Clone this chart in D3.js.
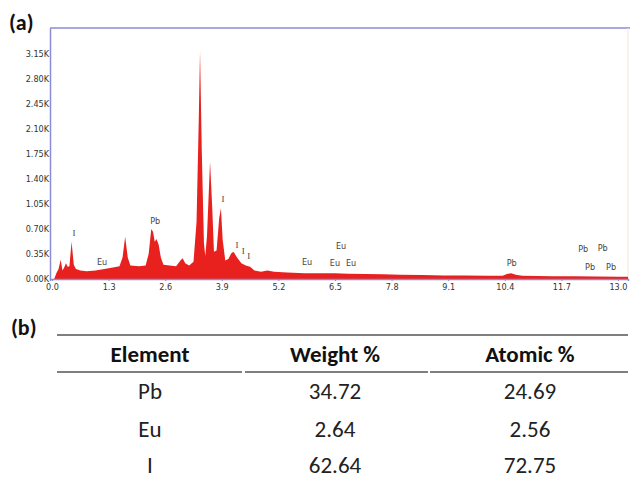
<!DOCTYPE html>
<html>
<head>
<meta charset="utf-8">
<script src="https://cdn.jsdelivr.net/npm/d3@7"></script>
<style>
  body { margin: 0; background: #fff; }
  .tick text { font-family: "Liberation Sans Narrow", "DejaVu Sans Condensed", sans-serif; font-size: 9px; fill: #333; }
  .peak { font-family: "Liberation Sans Narrow", "DejaVu Sans Condensed", sans-serif; font-size: 9px; fill: #444; }
  .peak.serif { font-family: "Liberation Serif", serif; }
  .panel { font-family: Carlito, Lato, "Open Sans", sans-serif; font-weight: 900; font-size: 22px; fill: #111; }
  .tbl { font-family: Carlito, Lato, "Open Sans", sans-serif; font-size: 23px; fill: #222; }
  .tbl.head { font-weight: bold; fill: #111; }
</style>
</head>
<body>
<div id="chart"></div>
<script>
// spectrum: energy (keV) and counts (K)
var energy = [0.05, 0.10, 0.15, 0.20, 0.24, 0.28, 0.32, 0.36, 0.40, 0.45, 0.50, 0.55, 0.65, 0.80, 1.00, 1.20, 1.40,
  1.55, 1.62, 1.68, 1.74, 1.80, 2.00, 2.15, 2.22, 2.28, 2.32, 2.36, 2.40, 2.45, 2.50, 2.56, 2.70, 2.85, 2.95, 3.00,
  3.06, 3.15, 3.25, 3.32, 3.37, 3.40, 3.44, 3.49, 3.52, 3.56, 3.63, 3.68, 3.72, 3.78, 3.84, 3.88, 3.92, 3.98,
  4.05, 4.12, 4.17, 4.25, 4.35, 4.45, 4.55, 4.65, 4.80, 4.95, 5.10, 5.40, 5.80, 6.20, 6.50, 6.80, 7.20, 7.60,
  8.00, 8.50, 9.00, 9.50, 10.00, 10.35, 10.45, 10.55, 10.65, 10.80, 11.50, 12.00, 12.50, 13.00, 13.23];
var counts = [0.00, 0.08, 0.14, 0.27, 0.12, 0.16, 0.22, 0.17, 0.18, 0.52, 0.20, 0.14, 0.12, 0.11, 0.12, 0.14, 0.16,
  0.18, 0.30, 0.59, 0.30, 0.19, 0.18, 0.19, 0.35, 0.70, 0.66, 0.52, 0.56, 0.48, 0.30, 0.20, 0.19, 0.18, 0.26, 0.29,
  0.22, 0.19, 0.24, 0.80, 2.20, 3.18, 1.80, 0.50, 0.32, 0.60, 1.64, 1.00, 0.38, 0.40, 0.85, 0.99, 0.55, 0.26,
  0.28, 0.36, 0.38, 0.30, 0.22, 0.19, 0.17, 0.12, 0.10, 0.12, 0.10, 0.09, 0.08, 0.08, 0.08, 0.075, 0.07, 0.065,
  0.06, 0.055, 0.05, 0.05, 0.045, 0.045, 0.07, 0.08, 0.06, 0.045, 0.04, 0.04, 0.035, 0.03, 0.03];

var xTicks = [0.0, 1.3, 2.6, 3.9, 5.2, 6.5, 7.8, 9.1, 10.4, 11.7, 13.0];
var yTicks = [0.00, 0.35, 0.70, 1.05, 1.40, 1.75, 2.10, 2.45, 2.80, 3.15];

// peak labels placed in data coordinates
var peakNames = ["I", "Eu", "Pb", "I", "I", "I", "I", "Eu", "Eu", "Eu", "Eu", "Pb", "Pb", "Pb", "Pb", "Pb"];
var peakX = [0.505, 1.15, 2.37, 3.93, 4.25, 4.39, 4.52, 5.86, 6.64, 6.50, 6.87, 10.56, 12.20, 12.65, 12.36, 12.84];
var peakY = [0.644, 0.238, 0.81, 1.12, 0.476, 0.392, 0.322, 0.238, 0.46, 0.224, 0.224, 0.224, 0.42, 0.434, 0.168, 0.168];

// composition table
var columns = ["Element", "Weight %", "Atomic %"];
var elements = ["Pb", "Eu", "I"];
var weightPct = ["34.72", "2.64", "62.64"];
var atomicPct = ["24.69", "2.56", "72.75"];

var W = 630, H = 479;
var plot = {left: 50, right: 628, top: 28, bottom: 279};
var frameColor = "#8b8bd6";

var svg = d3.select("#chart").append("svg").attr("width", W).attr("height", H);

var x = d3.scaleLinear().domain([-0.046, 13.23]).range([plot.left, plot.right]);
var y = d3.scaleLinear().domain([0, 3.51]).range([plot.bottom, plot.top]);

// frame
svg.append("line").attr("x1", plot.left).attr("x2", W).attr("y1", plot.top).attr("y2", plot.top)
  .attr("stroke", frameColor).attr("stroke-width", 1.5);
svg.append("line").attr("x1", plot.right).attr("x2", plot.right).attr("y1", plot.top).attr("y2", plot.bottom)
  .attr("stroke", "#f3e6dc").attr("stroke-width", 1);

// spectrum area
var pts = energy.map(function(e, i){ return [e, counts[i]]; });
var area = d3.area().x(function(d){ return x(d[0]); }).y0(y(0)).y1(function(d){ return y(d[1]); });
svg.append("path").datum(pts).attr("d", area).attr("fill", "#e8211f");

// axes
var xAxis = d3.axisBottom(x).tickValues(xTicks).tickFormat(d3.format(".1f")).tickSize(2).tickPadding(3);
var yAxis = d3.axisLeft(y).tickValues(yTicks).tickFormat(function(d){ return d3.format(".2f")(d) + "K"; }).tickSize(0).tickPadding(1);

var gx = svg.append("g").attr("transform", "translate(0," + plot.bottom + ")").call(xAxis);
var gy = svg.append("g").attr("transform", "translate(" + plot.left + ",0)").call(yAxis);
[gx, gy].forEach(function(g){
  g.select(".domain").attr("stroke", frameColor).attr("stroke-width", 1.5);
  g.selectAll(".tick line").attr("stroke", frameColor);
});

// peak labels
svg.selectAll("text.peak").data(peakNames).enter().append("text")
  .attr("class", function(d){ return d === "I" ? "peak serif" : "peak"; })
  .attr("x", function(d, i){ return x(peakX[i]); })
  .attr("y", function(d, i){ return y(peakY[i]); })
  .attr("text-anchor", "middle").attr("dominant-baseline", "central")
  .text(function(d){ return d; });

// panel labels
svg.append("text").attr("class", "panel").attr("x", 9).attr("y", 30).text("(a)");
svg.append("text").attr("class", "panel").attr("x", 11).attr("y", 335).text("(b)");

// table
var colX = [150, 335, 530];
var segs = [[57, 242], [245, 428], [430, 628]];
var rowY = [391, 429, 465];

svg.append("line").attr("x1", 57).attr("x2", 628).attr("y1", 335).attr("y2", 335)
  .attr("stroke", "#555").attr("stroke-width", 1.5);
svg.selectAll("line.hsep").data(segs).enter().append("line").attr("class", "hsep")
  .attr("x1", function(d){ return d[0]; }).attr("x2", function(d){ return d[1]; })
  .attr("y1", 372).attr("y2", 372).attr("stroke", "#555").attr("stroke-width", 1.5);

svg.selectAll("text.head").data(columns).enter().append("text").attr("class", "tbl head")
  .attr("x", function(d, i){ return colX[i]; }).attr("y", 354)
  .attr("text-anchor", "middle").attr("dominant-baseline", "central").text(function(d){ return d; });

var rows = elements.map(function(e, i){ return [e, weightPct[i], atomicPct[i]]; });
rows.forEach(function(r, i){
  svg.selectAll(null).data(r).enter().append("text").attr("class", "tbl")
    .attr("x", function(d, j){ return colX[j]; }).attr("y", rowY[i])
    .attr("text-anchor", "middle").attr("dominant-baseline", "central").text(function(d){ return d; });
});
</script>
</body>
</html>
